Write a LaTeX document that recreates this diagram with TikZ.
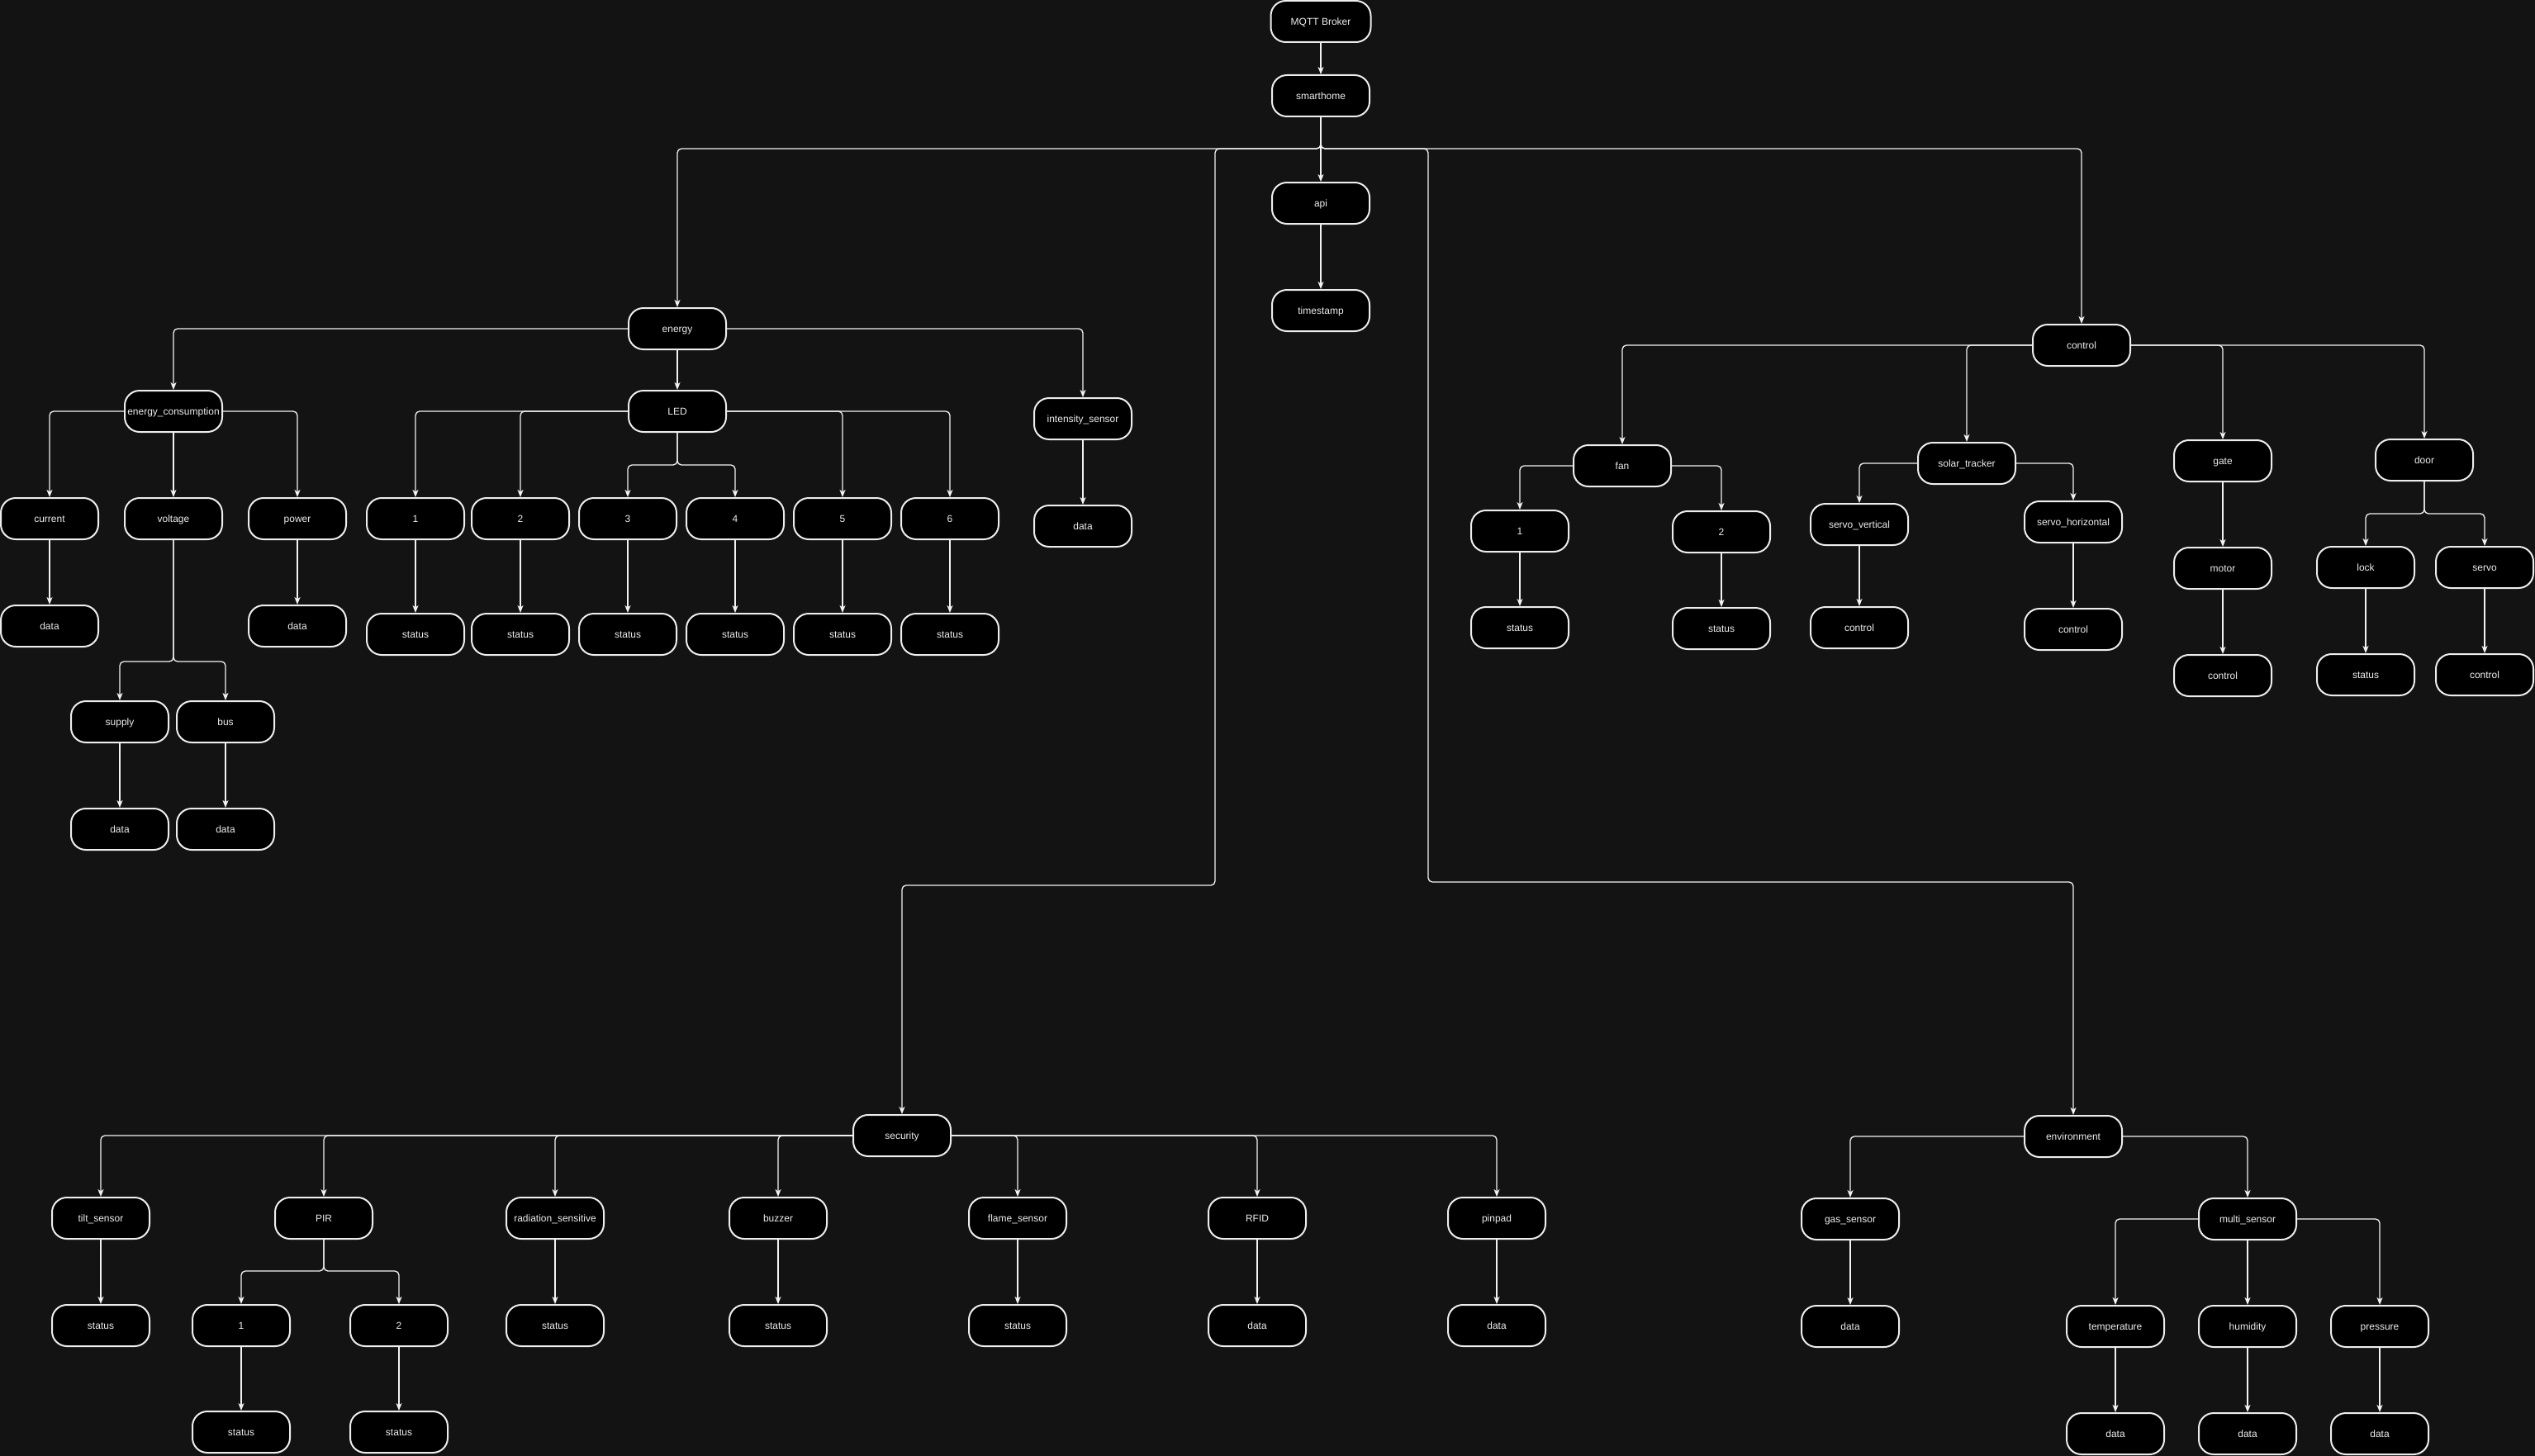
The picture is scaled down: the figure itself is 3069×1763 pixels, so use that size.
\documentclass[tikz,border=0pt]{standalone}
\usepackage{fontspec}
\setmainfont{Liberation Sans}
\usetikzlibrary{arrows.meta}
\definecolor{bgc}{HTML}{131313}
\definecolor{boxline}{HTML}{EDEDED}
\definecolor{linec}{HTML}{F2F2F2}
\definecolor{txtc}{HTML}{EEEEEE}
\tikzset{
  box/.style={draw=boxline, fill=black, line width=2pt, rounded corners=18pt,
    minimum width=118pt, minimum height=50pt, inner sep=0pt, text=txtc,
    text height=10.9pt, text depth=2.5pt,
    font=\fontsize{12}{14}\selectfont},
  edge/.style={draw=linec, line width=1.3pt, rounded corners=5pt,
    -{Stealth[length=9pt, width=7pt, inset=2.5pt]}},
}
\begin{document}
\begin{tikzpicture}[x=1pt, y=-1pt]
\fill[bgc] (0,0) rectangle (3069,1763);
\useasboundingbox (0,0) rectangle (3069,1763);
% coordinates for buses
\coordinate (b1) at (0,180);
\coordinate (secv) at (1471,1072);
\coordinate (envv) at (1729,1068);
\coordinate (ledbus) at (0,563);
\coordinate (vbus) at (0,801);
\coordinate (pbus) at (0,1539);
\coordinate (dbus) at (0,622);
% top
\node[box, minimum width=121pt] (mqtt) at (1599,26) {MQTT Broker};
\node[box] (smarthome) at (1599,116) {smarthome};
\node[box] (api) at (1599,246) {api};
\node[box] (ts) at (1599,376) {timestamp};
% energy
\node[box] (energy) at (820,398) {energy};
\node[box] (ec) at (210,498) {energy\_consumption};
\node[box] (cur) at (60,628) {current};
\node[box] (volt) at (210,628) {voltage};
\node[box] (pow) at (360,628) {power};
\node[box] (curd) at (60,758) {data};
\node[box] (powd) at (360,758) {data};
\node[box] (sup) at (145,874) {supply};
\node[box] (bus) at (273,874) {bus};
\node[box] (supd) at (145,1004) {data};
\node[box] (busd) at (273,1004) {data};
\node[box] (led) at (820,498) {LED};
\node[box] (l1) at (503,628) {1};
\node[box] (l2) at (630,628) {2};
\node[box] (l3) at (760,628) {3};
\node[box] (l4) at (890,628) {4};
\node[box] (l5) at (1020,628) {5};
\node[box] (l6) at (1150,628) {6};
\node[box] (s1) at (503,768) {status};
\node[box] (s2) at (630,768) {status};
\node[box] (s3) at (760,768) {status};
\node[box] (s4) at (890,768) {status};
\node[box] (s5) at (1020,768) {status};
\node[box] (s6) at (1150,768) {status};
\node[box] (ints) at (1311,507) {intensity\_sensor};
\node[box] (intd) at (1311,637) {data};
% control
\node[box] (ctrl) at (2520,418) {control};
\node[box] (fan) at (1964,564) {fan};
\node[box] (f1) at (1840,643) {1};
\node[box] (f1s) at (1840,760) {status};
\node[box] (f2) at (2084,644) {2};
\node[box] (f2s) at (2084,761) {status};
\node[box] (sol) at (2381,561) {solar\_tracker};
\node[box] (sv) at (2251,635) {servo\_vertical};
\node[box] (svc) at (2251,760) {control};
\node[box] (sh) at (2510,632) {servo\_horizontal};
\node[box] (shc) at (2510,762) {control};
\node[box] (gate) at (2691,558) {gate};
\node[box] (motor) at (2691,688) {motor};
\node[box] (motc) at (2691,818) {control};
\node[box] (door) at (2935,557) {door};
\node[box] (lock) at (2864,687) {lock};
\node[box] (locks) at (2864,817) {status};
\node[box] (servo) at (3008,687) {servo};
\node[box] (servoc) at (3008,817) {control};
% security
\node[box] (sec) at (1092,1375) {security};
\node[box] (tilt) at (122,1475) {tilt\_sensor};
\node[box] (tilts) at (122,1605) {status};
\node[box] (pir) at (392,1475) {PIR};
\node[box] (p1) at (292,1605) {1};
\node[box] (p1s) at (292,1734) {status};
\node[box] (p2) at (483,1605) {2};
\node[box] (p2s) at (483,1734) {status};
\node[box] (rad) at (672,1475) {radiation\_sensitive};
\node[box] (rads) at (672,1605) {status};
\node[box] (buz) at (942,1475) {buzzer};
\node[box] (buzs) at (942,1605) {status};
\node[box] (flame) at (1232,1475) {flame\_sensor};
\node[box] (flames) at (1232,1605) {status};
\node[box] (rfid) at (1522,1475) {RFID};
\node[box] (rfidd) at (1522,1605) {data};
\node[box] (pin) at (1812,1475) {pinpad};
\node[box] (pind) at (1812,1605) {data};
% environment
\node[box] (env) at (2510,1376) {environment};
\node[box] (gas) at (2240,1476) {gas\_sensor};
\node[box] (gasd) at (2240,1606) {data};
\node[box] (multi) at (2721,1476) {multi\_sensor};
\node[box] (temp) at (2561,1606) {temperature};
\node[box] (hum) at (2721,1606) {humidity};
\node[box] (pres) at (2881,1606) {pressure};
\node[box] (tempd) at (2561,1736) {data};
\node[box] (humd) at (2721,1736) {data};
\node[box] (presd) at (2881,1736) {data};
% edges: top
\draw[edge] (mqtt) -- (smarthome);
\draw[edge] (smarthome.south) -- (api.north);
\draw[edge] (api) -- (ts);
\draw[edge] (smarthome.south) -- (smarthome.south |- b1) -| (energy.north);
\draw[edge] (smarthome.south) -- (smarthome.south |- b1) -| (ctrl.north);
\draw[edge] (smarthome.south) -- (smarthome.south |- b1) -- (b1 -| secv) -- (secv) -| (sec.north);
\draw[edge] (smarthome.south) -- (smarthome.south |- b1) -- (b1 -| envv) -- (envv) -| (env.north);
% energy
\draw[edge] (energy.west) -| (ec.north);
\draw[edge] (energy) -- (led);
\draw[edge] (energy.east) -| (ints.north);
\draw[edge] (ints) -- (intd);
\draw[edge] (ec.west) -| (cur.north);
\draw[edge] (ec) -- (volt);
\draw[edge] (ec.east) -| (pow.north);
\draw[edge] (cur) -- (curd);
\draw[edge] (pow) -- (powd);
\draw[edge] (volt.south) -- (volt.south |- vbus) -| (sup.north);
\draw[edge] (volt.south) -- (volt.south |- vbus) -| (bus.north);
\draw[edge] (sup) -- (supd);
\draw[edge] (bus) -- (busd);
\draw[edge] (led.west) -| (l1.north);
\draw[edge] (led.west) -| (l2.north);
\draw[edge] (led.south) -- (led.south |- ledbus) -| (l3.north);
\draw[edge] (led.south) -- (led.south |- ledbus) -| (l4.north);
\draw[edge] (led.east) -| (l5.north);
\draw[edge] (led.east) -| (l6.north);
\foreach \i in {1,...,6} { \draw[edge] (l\i) -- (s\i); }
% control
\draw[edge] (ctrl.west) -| (fan.north);
\draw[edge] (ctrl.west) -| (sol.north);
\draw[edge] (ctrl.east) -| (gate.north);
\draw[edge] (ctrl.east) -| (door.north);
\draw[edge] (fan.west) -| (f1.north);
\draw[edge] (fan.east) -| (f2.north);
\draw[edge] (f1) -- (f1s);
\draw[edge] (f2) -- (f2s);
\draw[edge] (sol.west) -| (sv.north);
\draw[edge] (sol.east) -| (sh.north);
\draw[edge] (sv) -- (svc);
\draw[edge] (sh) -- (shc);
\draw[edge] (gate) -- (motor);
\draw[edge] (motor) -- (motc);
\draw[edge] (door.south) -- (door.south |- dbus) -| (lock.north);
\draw[edge] (door.south) -- (door.south |- dbus) -| (servo.north);
\draw[edge] (lock) -- (locks);
\draw[edge] (servo) -- (servoc);
% security
\draw[edge] (sec.west) -| (tilt.north);
\draw[edge] (sec.west) -| (pir.north);
\draw[edge] (sec.west) -| (rad.north);
\draw[edge] (sec.west) -| (buz.north);
\draw[edge] (sec.east) -| (flame.north);
\draw[edge] (sec.east) -| (rfid.north);
\draw[edge] (sec.east) -| (pin.north);
\draw[edge] (tilt) -- (tilts);
\draw[edge] (pir.south) -- (pir.south |- pbus) -| (p1.north);
\draw[edge] (pir.south) -- (pir.south |- pbus) -| (p2.north);
\draw[edge] (p1) -- (p1s);
\draw[edge] (p2) -- (p2s);
\draw[edge] (rad) -- (rads);
\draw[edge] (buz) -- (buzs);
\draw[edge] (flame) -- (flames);
\draw[edge] (rfid) -- (rfidd);
\draw[edge] (pin) -- (pind);
% environment
\draw[edge] (env.west) -| (gas.north);
\draw[edge] (env.east) -| (multi.north);
\draw[edge] (gas) -- (gasd);
\draw[edge] (multi.west) -| (temp.north);
\draw[edge] (multi) -- (hum);
\draw[edge] (multi.east) -| (pres.north);
\draw[edge] (temp) -- (tempd);
\draw[edge] (hum) -- (humd);
\draw[edge] (pres) -- (presd);
\end{tikzpicture}
\end{document}
